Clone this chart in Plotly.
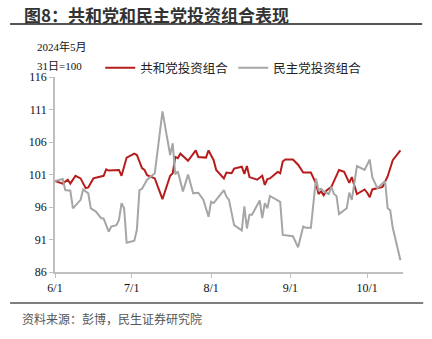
import datetime as dt
import plotly.graph_objects as go

# Index level, 2024-05-31 = 100; x values are days after 2024-06-01
rep_days = [0, 3, 5, 6, 8, 10, 12, 13, 15, 19, 20, 21, 25, 26, 28, 31, 32, 34, 35, 36,
            39, 42, 45, 46, 47, 48, 49, 52, 55, 56, 59, 60, 62, 63, 66, 67, 69, 70, 73, 74,
            75, 76, 79, 81, 82, 83, 84, 87, 88, 89, 90, 93, 95, 97, 100, 102, 103, 104, 105, 106,
            108, 111, 113, 115, 116, 117, 118, 121, 122, 123, 124, 128, 130, 132, 135]
rep_vals = [100.0, 99.6, 100.2, 99.6, 100.8, 100.4, 98.9, 99.0, 100.4, 100.8, 101.8, 101.6, 101.7, 100.8, 103.6, 104.2, 104.0, 102.0, 101.7, 100.9,
            100.4, 97.2, 100.8, 101.2, 103.7, 103.5, 104.2, 103.1, 104.7, 103.7, 103.6, 104.7, 103.2, 101.7, 100.4, 101.3, 101.2, 101.9, 102.2, 101.1,
            102.3, 100.6, 100.2, 100.8, 99.4, 100.3, 100.4, 101.4, 101.2, 103.0, 103.3, 103.3, 102.5, 101.3, 101.3, 99.6, 98.0, 98.4, 97.8, 98.5,
            99.1, 101.7, 101.4, 99.7, 100.6, 99.2, 98.0, 98.7, 98.2, 97.5, 98.7, 99.1, 100.7, 103.2, 104.7]

dem_days = [0, 3, 4, 6, 7, 10, 11, 13, 14, 16, 18, 19, 21, 22, 24, 25, 26, 27, 28, 31,
            32, 33, 34, 36, 39, 42, 45, 46, 47, 48, 50, 52, 54, 56, 58, 60, 61, 62, 64, 66,
            67, 68, 70, 73, 74, 75, 76, 77, 80, 81, 82, 83, 84, 88, 89, 93, 95, 97, 98, 100,
            101, 102, 103, 104, 105, 107, 108, 109, 110, 111, 114, 115, 116, 118, 121, 123, 124, 126, 129, 130,
            131, 132, 135]
dem_vals = [100.0, 100.3, 98.6, 98.5, 95.8, 97.1, 98.7, 98.1, 95.8, 95.3, 94.3, 94.2, 92.2, 93.0, 93.2, 94.0, 96.6, 95.8, 90.5, 90.8,
            92.5, 98.6, 98.8, 100.2, 101.2, 110.7, 104.0, 105.8, 101.0, 101.5, 98.4, 101.0, 98.1, 98.2, 97.1, 94.5, 96.8, 96.6, 97.6, 98.6,
            97.6, 97.1, 93.2, 92.4, 96.1, 92.7, 94.8, 94.8, 97.0, 94.3, 96.6, 95.8, 97.7, 96.8, 91.7, 91.5, 89.8, 93.0, 92.8, 92.8,
            96.6, 100.4, 98.6, 98.8, 98.4, 98.0, 99.1, 98.0, 97.7, 94.9, 95.8, 98.2, 97.1, 102.3, 101.7, 103.3, 100.6, 98.9, 100.0, 95.8,
            95.5, 92.8, 87.8]

tick_dates = ["2024-06-01", "2024-07-01", "2024-08-01", "2024-09-01", "2024-10-01"]
tick_labels = ["6/1", "7/1", "8/1", "9/1", "10/1"]
y_ticks = [86, 91, 96, 101, 106, 111, 116]

start = dt.date(2024, 6, 1)
rep_x = [start + dt.timedelta(days=d) for d in rep_days]
dem_x = [start + dt.timedelta(days=d) for d in dem_days]

SERIF = "Liberation Serif, Noto Sans CJK SC"
CJK = "Noto Sans CJK SC"
AXIS = "#BFBFBF"

fig = go.Figure()
fig.add_trace(go.Scatter(x=rep_x, y=rep_vals, mode="lines", name="共和党投资组合",
                         line=dict(color="#B71C1C", width=2)))
fig.add_trace(go.Scatter(x=dem_x, y=dem_vals, mode="lines", name="民主党投资组合",
                         line=dict(color="#A6A6A6", width=2)))

fig.update_layout(
    width=432, height=339,
    margin=dict(l=55, r=29, t=77, b=67),
    paper_bgcolor="white", plot_bgcolor="white",
    showlegend=True,
    legend=dict(orientation="h", x=0.13, xanchor="left", y=1.046, yanchor="middle",
                font=dict(family=CJK, size=12.5, color="#222"),
                bgcolor="rgba(0,0,0,0)", itemwidth=30, tracegroupgap=0),
    xaxis=dict(type="date", range=["2024-06-01", "2024-10-15"],
               tickvals=tick_dates, ticktext=tick_labels,
               showgrid=False, zeroline=False, showline=True, linecolor=AXIS, linewidth=1.5,
               ticks="outside", ticklen=4, tickcolor=AXIS,
               tickfont=dict(family=SERIF, size=12, color="#111")),
    yaxis=dict(range=[86, 116], tickvals=y_ticks,
               showgrid=False, zeroline=False, showline=True, linecolor=AXIS, linewidth=1.5,
               ticks="outside", ticklen=4, tickcolor=AXIS,
               tickfont=dict(family=SERIF, size=12, color="#111")),
)

# Chart heading with rule beneath it
fig.add_annotation(text="<b>图8：共和党和民主党投资组合表现</b>", xref="paper", yref="paper",
                   x=-0.095, y=1.323, xanchor="left", yanchor="middle", showarrow=False,
                   font=dict(family=CJK, size=17, color="#333"))
fig.add_shape(type="line", xref="paper", yref="paper", x0=-0.129, x1=1.055, y0=1.272, y1=1.272,
              line=dict(color="#555", width=2))

# Unit note above the value axis
fig.add_annotation(text="2024年5月", xref="paper", yref="paper", x=-0.057, y=1.154,
                   xanchor="left", yanchor="middle", showarrow=False,
                   font=dict(family=SERIF, size=11, color="#111"))
fig.add_annotation(text="31日=100", xref="paper", yref="paper", x=-0.057, y=1.056,
                   xanchor="left", yanchor="middle", showarrow=False,
                   font=dict(family=SERIF, size=11, color="#111"))

# Source line at the foot
fig.add_shape(type="line", xref="paper", yref="paper", x0=-0.129, x1=1.058, y0=-0.159, y1=-0.159,
              line=dict(color="#555", width=1.5))
fig.add_annotation(text="资料来源：彭博，民生证券研究院", xref="paper", yref="paper", x=-0.1, y=-0.236,
                   xanchor="left", yanchor="middle", showarrow=False,
                   font=dict(family=CJK, size=12, color="#555"))

fig.write_html("out.html")
